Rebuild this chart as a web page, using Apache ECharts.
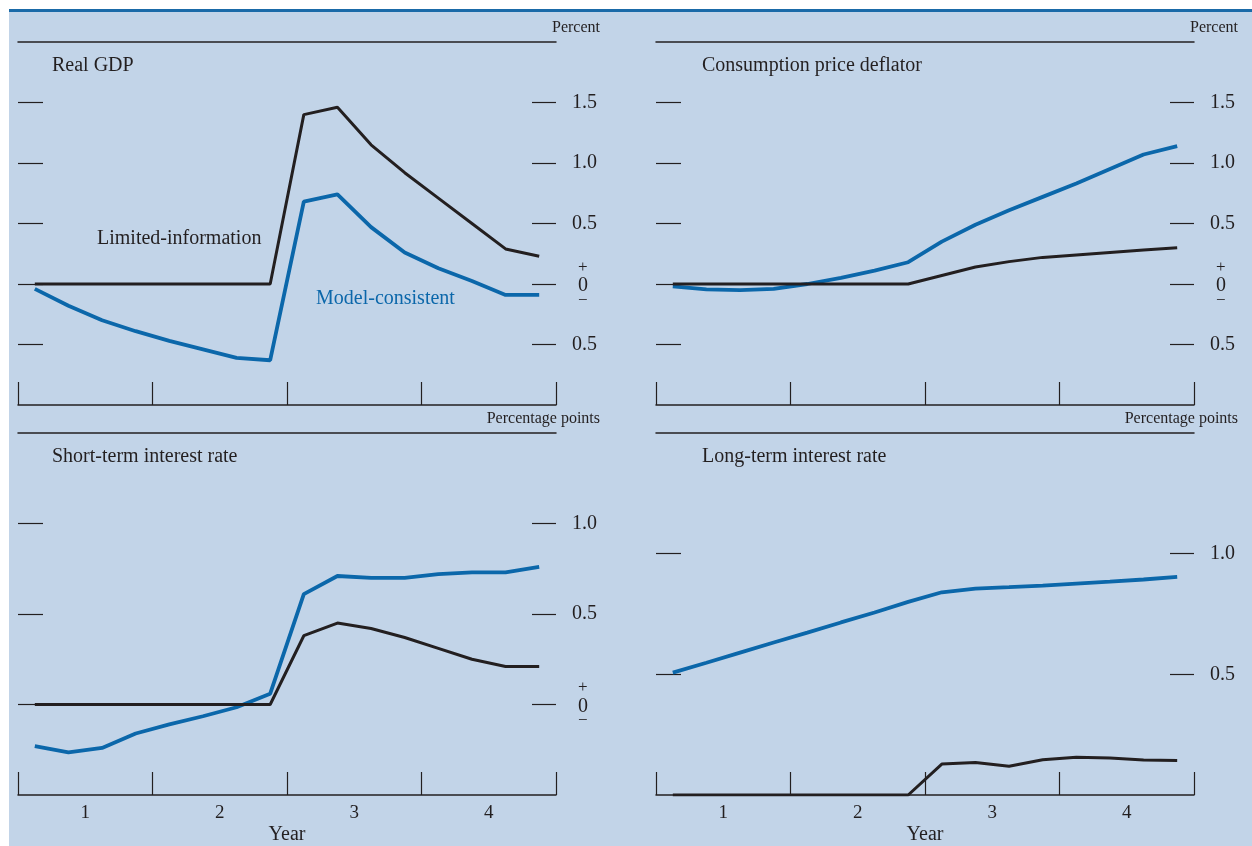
<!DOCTYPE html>
<html>
<head>
<meta charset="utf-8">
<script src="https://cdn.jsdelivr.net/npm/echarts@6/dist/echarts.min.js"></script>
<style>
  html, body { margin: 0; padding: 0; background: #fff; }
  #chart { width: 1252px; height: 846px; }
</style>
</head>
<body>
<div id="chart"></div>
<script>
// quarters 1..16, plotted at the middle of each quarter
var quarters = [1,2,3,4,5,6,7,8,9,10,11,12,13,14,15,16];
var yearLabels = ['1','2','3','4'];

var gdpLimited = [0,0,0,0,0,0,0,0,1.40,1.46,1.15,0.92,0.71,0.50,0.29,0.23];
var gdpModel   = [-0.04,-0.18,-0.30,-0.39,-0.47,-0.54,-0.61,-0.63,0.68,0.74,0.47,0.26,0.13,0.025,-0.09,-0.09];

var pceLimited = [0,0,0,0,0,0,0,0,0.07,0.14,0.185,0.22,0.24,0.26,0.28,0.30];
var pceModel   = [-0.02,-0.045,-0.05,-0.04,0.0,0.05,0.11,0.18,0.35,0.49,0.61,0.72,0.83,0.95,1.07,1.14];

var shortLimited = [0,0,0,0,0,0,0,0,0.38,0.45,0.42,0.37,0.31,0.25,0.21,0.21];
var shortModel   = [-0.23,-0.265,-0.24,-0.16,-0.11,-0.065,-0.015,0.06,0.61,0.71,0.70,0.70,0.72,0.73,0.73,0.76];

var longLimited = [0,0,0,0,0,0,0,0,0.128,0.135,0.119,0.146,0.156,0.153,0.145,0.143];
var longModel   = [0.507,0.548,0.59,0.632,0.673,0.715,0.756,0.80,0.84,0.855,0.861,0.868,0.876,0.884,0.893,0.904];

var titles = ['Real GDP', 'Consumption price deflator', 'Short-term interest rate', 'Long-term interest rate'];
var units  = ['Percent', 'Percent', 'Percentage points', 'Percentage points'];
var yMin   = [-1, -1, -0.5, 0];
var yMax   = [2, 2, 1.5, 1.5];
var yTicks = [[-0.5,0,0.5,1,1.5], [-0.5,0,0.5,1,1.5], [0,0.5,1], [0.5,1]];

var ink = '#231f20';
var blue = '#0b67aa';
var font = '"Liberation Serif", "Times New Roman", serif';

var grids = [
  {left: 18,  top: 42,  width: 538, height: 363},
  {left: 656, top: 42,  width: 538, height: 363},
  {left: 18,  top: 433, width: 538, height: 363},
  {left: 656, top: 433, width: 538, height: 363}
];

function pairs(vals) {
  return vals.map(function (v, i) { return [quarters[i] - 0.5, v]; });
}

var xAxes = [], yAxes = [], series = [], title = [];
var limitedSets = [gdpLimited, pceLimited, shortLimited, longLimited];
var modelSets = [gdpModel, pceModel, shortModel, longModel];

for (var i = 0; i < 4; i++) {
  var bottomRow = i >= 2;
  // bottom axis with year ticks
  xAxes.push({
    gridIndex: i, type: 'value', min: 0, max: 16, interval: 2, position: 'bottom',
    axisLine: {show: true, onZero: false, lineStyle: {color: ink, width: 1.5}},
    axisTick: {show: true, inside: true, length: 23, customValues: [0,4,8,12,16], lineStyle: {color: ink, width: 1.2}},
    axisLabel: {show: bottomRow, customValues: [2,6,10,14], margin: 9, color: ink, fontFamily: font, fontSize: 19,
      formatter: function (v) { return yearLabels[(v - 2) / 4]; }},
    splitLine: {show: false},
    name: bottomRow ? 'Year' : '', nameLocation: 'middle', nameGap: 30,
    nameTextStyle: {color: ink, fontFamily: font, fontSize: 20}
  });
  // top rule
  xAxes.push({
    gridIndex: i, type: 'value', min: 0, max: 16, position: 'top',
    axisLine: {show: true, onZero: false, lineStyle: {color: ink, width: 1.5}},
    axisTick: {show: false}, axisLabel: {show: false}, splitLine: {show: false}
  });
  yAxes.push({
    gridIndex: i, type: 'value', min: yMin[i], max: yMax[i], position: 'left',
    axisLine: {show: false, onZero: false},
    axisTick: {show: true, inside: true, length: 25, customValues: yTicks[i], lineStyle: {color: ink, width: 1.2}},
    axisLabel: {show: false}, splitLine: {show: false}
  });
  yAxes.push({
    gridIndex: i, type: 'value', min: yMin[i], max: yMax[i], position: 'right',
    axisLine: {show: false, onZero: false},
    axisTick: {show: true, inside: true, length: 24, customValues: yTicks[i], lineStyle: {color: ink, width: 1.2}},
    axisLabel: {show: true, customValues: yTicks[i], margin: 16, color: ink, fontFamily: font, fontSize: 20,
      formatter: function (v) {
        if (v === 0) return '{s|+}\n{z|0}\n{s|\u2212}';
        return Math.abs(v).toFixed(1);
      },
      rich: {
        s: {fontSize: 17, fontFamily: font, color: ink, lineHeight: 15, padding: [0,0,0,6]},
        z: {fontSize: 20, fontFamily: font, color: ink, lineHeight: 18, padding: [4,0,0,6]}
      }
    },
    splitLine: {show: false}
  });
  series.push({
    type: 'line', xAxisIndex: i * 2, yAxisIndex: i * 2, data: pairs(modelSets[i]),
    symbol: 'none', lineStyle: {color: blue, width: 3.8}, z: 3
  });
  series.push({
    type: 'line', xAxisIndex: i * 2, yAxisIndex: i * 2, data: pairs(limitedSets[i]),
    symbol: 'none', lineStyle: {color: ink, width: 3}, z: 4
  });
  var g = grids[i];
  title.push({
    text: titles[i], left: g.left + (i % 2 ? 41 : 29), top: g.top + 9,
    textStyle: {color: ink, fontFamily: font, fontSize: 20, fontWeight: 'normal'}
  });
  title.push({
    text: units[i], right: (i % 2 ? 9 : 647), top: g.top - 27,
    textStyle: {color: ink, fontFamily: font, fontSize: 16, fontWeight: 'normal'}
  });
}

var chart = echarts.init(document.getElementById('chart'), null, {renderer: 'canvas'});
chart.setOption({
  backgroundColor: '#ffffff',
  animation: false,
  graphic: [
    {type: 'rect', shape: {x: 9, y: 9, width: 1243, height: 837}, style: {fill: '#c2d4e8'}, z: -10},
    {type: 'rect', shape: {x: 9, y: 9, width: 1243, height: 3}, style: {fill: '#1a6aa8'}, z: -9},
    {type: 'text', left: 97, top: 229, z: 10,
      style: {text: 'Limited-information', fill: ink, font: '20px ' + font}},
    {type: 'text', left: 316, top: 289, z: 10,
      style: {text: 'Model-consistent', fill: blue, font: '20px ' + font}}
  ],
  title: title,
  grid: grids,
  xAxis: xAxes,
  yAxis: yAxes,
  series: series
});
window.addEventListener('resize', function () { chart.resize(); });
</script>
</body>
</html>
